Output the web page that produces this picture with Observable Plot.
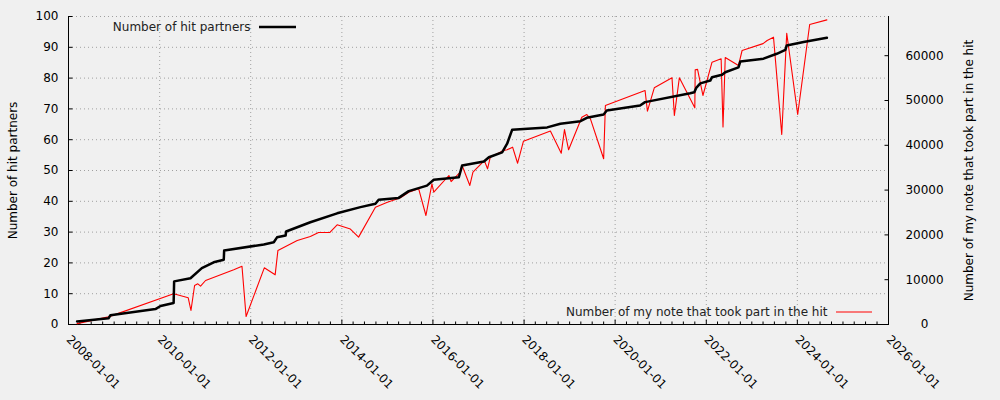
<!DOCTYPE html>
<html>
<head>
<meta charset="utf-8">
<script src="https://cdn.jsdelivr.net/npm/d3@7"></script>
<script src="https://cdn.jsdelivr.net/npm/@observablehq/plot@0.6"></script>
<style>
  html, body { margin: 0; padding: 0; background: #f0f0f0; }
  #chart { width: 1000px; height: 400px; }
</style>
</head>
<body>
<div id="chart"></div>
<script>
// ---- data ----
const partnerDates = ["2008-03-10","2008-11-17","2008-12-02","2009-11-28","2010-01-08","2010-04-23","2010-04-27","2010-09-05","2010-12-05","2011-03-10","2011-05-30","2011-06-02","2012-04-15","2012-07-04","2012-07-30","2012-10-07","2012-10-11","2013-04-23","2013-11-24","2014-05-30","2014-09-27","2014-10-23","2015-04-01","2015-06-21","2015-11-14","2016-01-08","2016-07-27","2016-08-22","2017-02-13","2017-03-25","2017-07-09","2017-08-18","2017-09-27","2018-07-05","2018-10-19","2019-03-29","2019-05-19","2019-10-01","2019-10-26","2020-07-19","2020-08-28","2021-08-25","2021-09-27","2021-10-12","2021-11-14","2022-02-02","2022-02-16","2022-05-08","2022-06-02","2022-09-16","2022-10-01","2023-04-05","2023-07-20","2023-09-27","2023-10-08","2024-02-20","2024-08-25"];
const partnerValues = [1,2,3,5,6,7,14,15,18.3,20.2,21,24,26,26.7,28.3,28.9,30.2,33.2,36.1,38.1,39.2,40.5,41.1,43.3,45.1,47,47.8,51.6,52.9,54.3,55.9,58.7,63.2,64,65.2,66,67.1,68.2,69.5,71.1,72.2,75.1,75.4,76.8,78.3,79.2,80.3,81.1,81.9,83.5,85.4,86.3,87.9,89.2,90.6,91.7,93.1];

const noteDates = ["2008-03-10","2008-11-17","2010-04-23","2010-08-18","2010-09-09","2010-10-08","2010-11-03","2010-11-25","2011-01-04","2011-08-18","2011-10-23","2011-11-25","2012-04-19","2012-07-15","2012-08-06","2013-01-08","2013-04-23","2013-06-28","2013-09-27","2013-11-24","2014-03-10","2014-05-15","2014-09-27","2015-01-01","2015-04-16","2015-06-21","2015-09-09","2015-11-06","2015-12-24","2016-01-08","2016-05-08","2016-05-26","2016-08-07","2016-08-22","2016-10-23","2016-11-17","2017-02-16","2017-03-14","2017-04-05","2017-07-20","2017-08-18","2017-10-01","2017-11-10","2017-12-27","2018-07-31","2018-10-26","2018-11-21","2018-12-24","2019-04-09","2019-05-19","2019-06-17","2019-10-01","2019-10-15","2020-08-28","2020-09-16","2020-11-10","2021-04-01","2021-04-20","2021-05-30","2021-10-01","2021-10-04","2021-10-23","2021-12-05","2022-02-16","2022-04-30","2022-05-15","2022-06-02","2022-09-16","2022-10-15","2023-04-01","2023-05-04","2023-06-24","2023-08-29","2023-10-08","2024-01-04","2024-04-09","2024-08-25"];
const noteValues = [200,1700,6850,5950,3125,8700,9080,8560,9820,12200,13000,1790,12650,11090,16500,18750,19640,20540,20540,22250,21300,19500,26190,27300,28280,29530,30290,24330,31400,29530,33260,31900,34000,35490,31030,34000,36600,34750,37350,38840,39000,39580,36000,40920,43200,38240,43500,39000,46270,46875,45900,36990,48880,52230,47620,52830,55070,46650,55070,48370,56850,56950,51120,58550,59300,44100,59600,57810,61160,62700,63390,64130,42410,65020,46870,66960,68000];

const xTickLabels = ["2008-01-01","2010-01-01","2012-01-01","2014-01-01","2016-01-01","2018-01-01","2020-01-01","2022-01-01","2024-01-01","2026-01-01"];
const yTicks = [0,10,20,30,40,50,60,70,80,90,100];
const y2Ticks = [0,10000,20000,30000,40000,50000,60000];
const y2Max = 68750;

const leftLabel = "Number of hit partners";
const rightLabel = "Number of my note that took part in the hit";

// ---- build ----
const parse = d3.utcParse("%Y-%m-%d");
const k = 100 / y2Max;
const partners = partnerDates.map((d, i) => ({date: parse(d), value: partnerValues[i]}));
const notes = noteDates.map((d, i) => ({date: parse(d), value: noteValues[i] * k}));
const majorTicks = xTickLabels.map(parse);
const xMin = majorTicks[0], xMax = majorTicks[majorTicks.length - 1];
const minorTicks = d3.utcMonth.every(3).range(xMin, xMax).filter(d => d.getUTCMonth() !== 0 || d.getUTCFullYear() % 2 !== 0);
const gridX = majorTicks.slice(1, -1);
const grid = {stroke: "#a0a0a0", strokeOpacity: 1, strokeDasharray: "1,3", strokeWidth: 1};

const chart = Plot.plot({
  width: 1000,
  height: 400,
  marginLeft: 68,
  marginRight: 112,
  marginTop: 16,
  marginBottom: 76,
  style: {background: "#f0f0f0", fontFamily: "DejaVu Sans", fontSize: "12px", color: "black", overflow: "visible"},
  x: {type: "utc", domain: [xMin, xMax]},
  y: {domain: [0, 100]},
  marks: [
    Plot.gridY(yTicks.slice(1), grid),
    Plot.gridX(gridX, grid),
    Plot.axisY(yTicks, {anchor: "left", tickSize: -4.5, tickPadding: 14.5, label: null, fontSize: 12}),
    Plot.axisY(y2Ticks.map(t => t * k), {anchor: "right", tickSize: -4.5, tickPadding: 40.5, textAnchor: "middle", label: null, tickFormat: d => String(Math.round(d / k / 1000) * 1000), fontSize: 12}),
    Plot.axisX(minorTicks, {anchor: "bottom", tickSize: -2.5, tickFormat: () => "", label: null}),
    Plot.axisX(majorTicks, {anchor: "bottom", tickSize: -4.5, tickPadding: 17.5, tickRotate: 45, label: null, tickFormat: d3.utcFormat("%Y-%m-%d"), fontSize: 12}),
    Plot.ruleY([0], {stroke: "black", strokeWidth: 1}),
    Plot.ruleX([xMin, xMax], {stroke: "black", strokeWidth: 1}),
    Plot.line(notes, {x: "date", y: "value", stroke: "#ff0000", strokeWidth: 1.1}),
    Plot.line(partners, {x: "date", y: "value", stroke: "black", strokeWidth: 2.5}),
    Plot.text([leftLabel], {frameAnchor: "left", dx: -55, rotate: -90, textAnchor: "middle", lineAnchor: "middle", fontSize: 12, fill: "black"}),
    Plot.text([rightLabel], {frameAnchor: "right", dx: 81, rotate: -90, textAnchor: "middle", lineAnchor: "middle", fontSize: 12, fill: "black"}),
    Plot.text([leftLabel], {frameAnchor: "top-left", dx: 182, dy: 11, textAnchor: "end", lineAnchor: "middle", fontSize: 12, fill: "#222"}),
    Plot.text([rightLabel], {frameAnchor: "bottom-right", dx: -61, dy: -12, textAnchor: "end", lineAnchor: "middle", fontSize: 12, fill: "#222"})
  ]
});

// legend swatches
const svg = d3.select(chart);
svg.append("line").attr("x1", 259).attr("x2", 296).attr("y1", 27).attr("y2", 27).attr("stroke", "black").attr("stroke-width", 2.5);
svg.append("line").attr("x1", 836).attr("x2", 872).attr("y1", 312).attr("y2", 312).attr("stroke", "#ff0000").attr("stroke-width", 1.1);

document.getElementById("chart").appendChild(chart);
</script>
</body>
</html>
